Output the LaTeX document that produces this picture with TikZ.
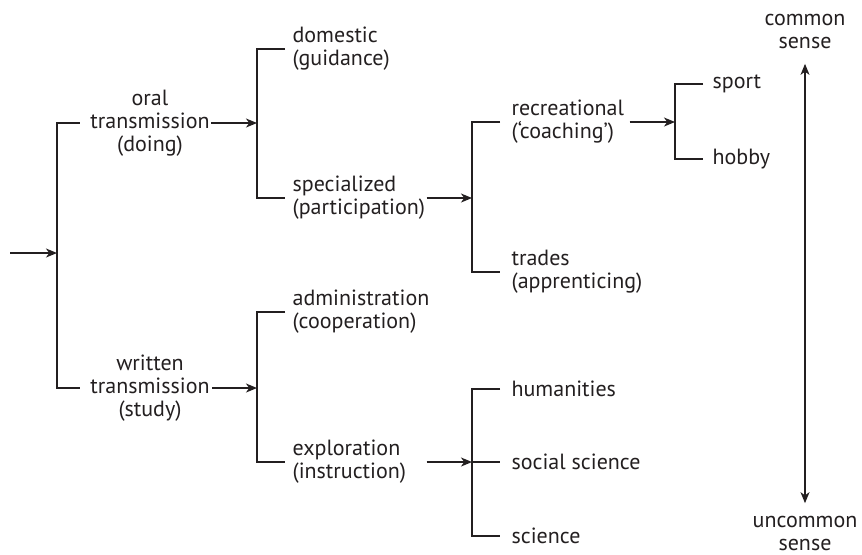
\documentclass[tikz,border=0pt]{standalone}
\usepackage{fontspec}
\setmainfont{PT Sans}
\usetikzlibrary{arrows.meta}
\definecolor{ink}{HTML}{231F20}
\begin{document}
\begin{tikzpicture}[x=0.5pt,y=-0.5pt,
  line width=0.6pt, draw=ink,
  every node/.style={inner sep=0pt, text=ink, font=\fontsize{11}{11.5}\selectfont},
  lbl/.style={anchor=west, align=left},
  clbl/.style={anchor=center, align=center},
  arr/.style={-{Stealth[length=5.5pt,width=4.5pt,inset=1.6pt]}},
  dbl/.style={{Stealth[length=5.5pt,width=4.5pt,inset=1.6pt]}-{Stealth[length=5.5pt,width=4.5pt,inset=1.6pt]}}]
\useasboundingbox (0,0) rectangle (862,554);

% bracket junctions
\coordinate (start) at (10,253);
\coordinate (b1) at (57,253);
\coordinate (b2) at (257,123);
\coordinate (b3) at (257,388);
\coordinate (b4) at (472,198);
\coordinate (b5) at (675,122);
\coordinate (b6) at (472,462);

% level 1
\node[clbl] (oral) at (150,123) {oral\\transmission\\(doing)};
\node[clbl] (writ) at (150,388) {written\\transmission\\(study)};

% level 2
\node[lbl] (dom)  at (292,49)  {domestic\\(guidance)};
\node[lbl] (spec) at (292,198) {specialized\\(participation)};
\node[lbl] (adm)  at (292,312) {administration\\(cooperation)};
\node[lbl] (expl) at (292,462) {exploration\\(instruction)};

% level 3
\node[lbl] (recr) at (511,122) {recreational\\(‘coaching’)};
\node[lbl] (trad) at (511,272) {trades\\(apprenticing)};
\node[lbl] (hum)  at (511,389) {humanities};
\node[lbl] (soc)  at (511,462) {social science};
\node[lbl] (sci)  at (511,536) {science};

% level 4
\node[lbl] (sport) at (712,84)  {sport};
\node[lbl] (hobby) at (712,159) {hobby};

% scale
\node[clbl] (cs) at (805,31) {common\\sense};
\node[clbl] (us) at (805,533) {uncommon\\sense};

% connectors
\draw[arr] (start) -- (b1);
\draw ([xshift=-5pt]oral.west) -| (b1) |- ([xshift=-5pt]writ.west);

\draw[arr] ([xshift=0.5pt]oral.east) -- (b2);
\draw ([xshift=-3.5pt]dom.west) -| (b2) |- ([xshift=-3.5pt]spec.west);

\draw[arr] ([xshift=1pt]writ.east) -- (b3);
\draw ([xshift=-3.5pt]adm.west) -| (b3) |- ([xshift=-3.5pt]expl.west);

\draw[arr] ([xshift=0.5pt]spec.east) -- (b4);
\draw ([xshift=-5.5pt]recr.west) -| (b4) |- ([xshift=-5.5pt]trad.west);

\draw[arr] ([xshift=2.5pt]recr.east) -- (b5);
\draw ([xshift=-4.5pt]sport.west) -| (b5) |- ([xshift=-4.5pt]hobby.west);

\draw[arr] ([xshift=10pt]expl.east) -- (b6);
\draw ([xshift=-5.5pt]hum.west) -| (b6) |- ([xshift=-5.5pt]sci.west);
\draw (b6) -- ([xshift=-5.5pt]soc.west);

\draw[dbl] ([yshift=-7.5pt]cs.south) -- ([yshift=6pt]us.north);
\end{tikzpicture}
\end{document}
